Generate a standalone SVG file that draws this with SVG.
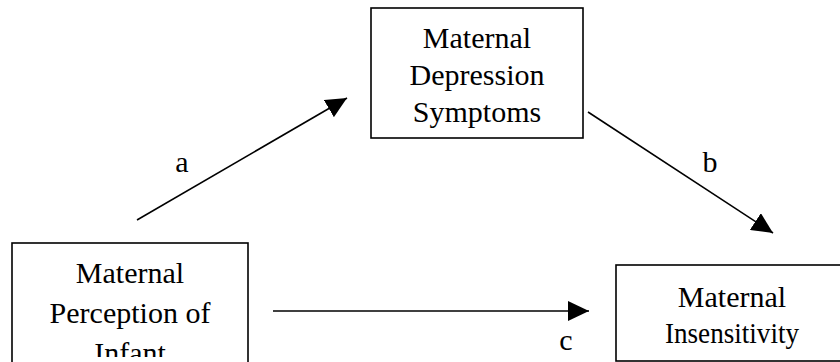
<svg xmlns="http://www.w3.org/2000/svg" width="840" height="362" viewBox="0 0 840 362">
<style>
.box{fill:#fff;stroke:#000;stroke-width:1.6}
.t{font-family:"Liberation Serif","Times New Roman",serif;font-size:30px;fill:#000;text-anchor:middle}
.edge{stroke:#000;stroke-width:1.6;fill:none;marker-end:url(#ah)}
</style>
<defs>
<marker id="ah" markerUnits="userSpaceOnUse" markerWidth="22" markerHeight="20" refX="21" refY="10" orient="auto">
<path d="M0,0 L21,10 L0,20 z" fill="#000"/>
</marker>
<clipPath id="clipL"><rect x="12" y="243" width="236" height="114"/></clipPath>
</defs>
<rect width="840" height="362" fill="#fff"/>
<g id="node-depression">
<rect class="box" x="371" y="8" width="212" height="130"/>
<text class="t" x="477" y="48">Maternal</text>
<text class="t" x="477" y="85">Depression</text>
<text class="t" x="477" y="122">Symptoms</text>
</g>
<g id="node-perception">
<rect class="box" x="12" y="243" width="236" height="125"/>
<g clip-path="url(#clipL)">
<text class="t" x="130" y="283">Maternal</text>
<text class="t" x="130" y="323">Perception of</text>
<text class="t" x="130" y="363">Infant</text>
</g>
</g>
<g id="node-insensitivity">
<rect class="box" x="616" y="265" width="232" height="96"/>
<text class="t" x="732" y="307">Maternal</text>
<text class="t" x="732" y="343" textLength="134" lengthAdjust="spacingAndGlyphs">Insensitivity</text>
</g>
<g id="connectors">
<line class="edge" x1="137" y1="220" x2="347" y2="98"/>
<line class="edge" x1="588" y1="112" x2="773" y2="233"/>
<line class="edge" x1="273" y1="311" x2="589" y2="311"/>
<text class="t" x="182" y="172">a</text>
<text class="t" x="710" y="172">b</text>
<text class="t" x="566" y="350">c</text>
</g>
</svg>
